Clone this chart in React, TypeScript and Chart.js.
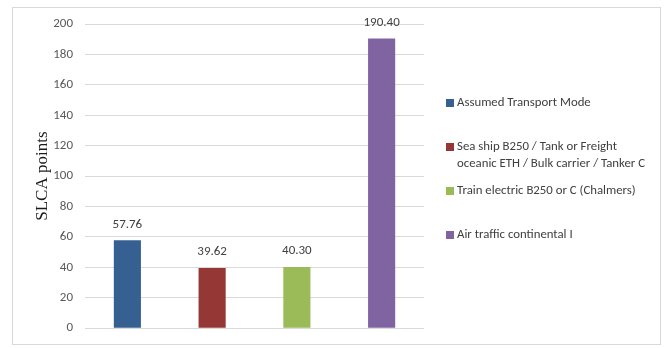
import React, { useEffect, useRef } from "react";
import { Chart, registerables } from "chart.js";

Chart.register(...registerables);

// ---- data ----
const categories: string[][] = [
  ["Assumed Transport Mode"],
  ["Sea ship B250 / Tank or Freight", "oceanic ETH / Bulk carrier / Tanker C"],
  ["Train electric B250 or C (Chalmers)"],
  ["Air traffic continental I"],
];
const values: number[] = [57.76, 39.62, 40.3, 190.4];
const barColors: string[] = ["#376092", "#953735", "#9BBB59", "#8064A2"];
const yMin = 0;
const yMax = 200;
const yStep = 20;
const yTitle = "SLCA points";

const SANS = "Carlito, Calibri, Lato, sans-serif";

const framePlugin = {
  id: "frame",
  beforeDraw(chart: any) {
    const { ctx, width, height } = chart;
    ctx.save();
    ctx.fillStyle = "#ffffff";
    ctx.fillRect(0, 0, width, height);
    ctx.strokeStyle = "#d9d9d9";
    ctx.lineWidth = 1;
    ctx.strokeRect(12.5, 7.5, 648, 337);
    ctx.restore();
  },
};

const valueLabelPlugin = {
  id: "valueLabels",
  afterDatasetsDraw(chart: any) {
    const { ctx } = chart;
    const meta = chart.getDatasetMeta(0);
    ctx.save();
    ctx.font = `13px ${SANS}`;
    ctx.fillStyle = "#404040";
    ctx.textAlign = "center";
    ctx.textBaseline = "middle";
    meta.data.forEach((bar: any, i: number) => {
      ctx.fillText(values[i].toFixed(2), bar.x, bar.y - 16);
    });
    ctx.restore();
  },
};

const legendPlugin = {
  id: "customLegend",
  afterDraw(chart: any) {
    const { ctx } = chart;
    ctx.save();
    ctx.font = `12.8px ${SANS}`;
    ctx.textAlign = "left";
    ctx.textBaseline = "middle";
    const x0 = 446;
    const y0 = 103;
    const step = 44;
    const lh = 17;
    categories.forEach((lines, i) => {
      const y = y0 + i * step;
      ctx.fillStyle = barColors[i];
      ctx.fillRect(x0, y - 4, 8, 8);
      ctx.fillStyle = "#404040";
      lines.forEach((ln, j) => ctx.fillText(ln, x0 + 11, y + j * lh));
    });
    ctx.restore();
  },
};

export default function App() {
  const ref = useRef<HTMLCanvasElement | null>(null);
  useEffect(() => {
    if (!ref.current) return;
    const chart = new Chart(ref.current, {
      type: "bar",
      data: {
        labels: categories,
        datasets: [
          {
            data: values,
            backgroundColor: barColors,
            borderWidth: 0,
            barPercentage: 0.32,
            categoryPercentage: 1,
          },
        ],
      },
      options: {
        responsive: false,
        animation: false,
        devicePixelRatio: 1,
        layout: { padding: { top: 24, right: 240, bottom: 8.7, left: 0 } },
        plugins: {
          legend: { display: false },
          tooltip: { enabled: false },
        },
        scales: {
          x: { display: false },
          y: {
            min: yMin,
            max: yMax,
            ticks: {
              stepSize: yStep,
              padding: 12,
              color: "#595959",
              font: { family: SANS, size: 13 },
            },
            grid: { color: "#d9d9d9", drawTicks: false, lineWidth: 1 },
            border: { display: false },
            title: {
              display: true,
              text: yTitle,
              color: "#1a1a1a",
              font: { family: "'Liberation Serif', 'Times New Roman', serif", size: 17 },
              padding: { top: 32, bottom: 0 },
            },
            afterFit(scale: any) {
              scale.width = 85;
            },
          },
        },
      },
      plugins: [framePlugin, valueLabelPlugin, legendPlugin],
    });
    return () => chart.destroy();
  }, []);
  return (
    <div style={{ position: "absolute", left: 0, top: 0, width: 664, height: 348, background: "#fff" }}>
      <canvas ref={ref} width={664} height={348} />
    </div>
  );
}
